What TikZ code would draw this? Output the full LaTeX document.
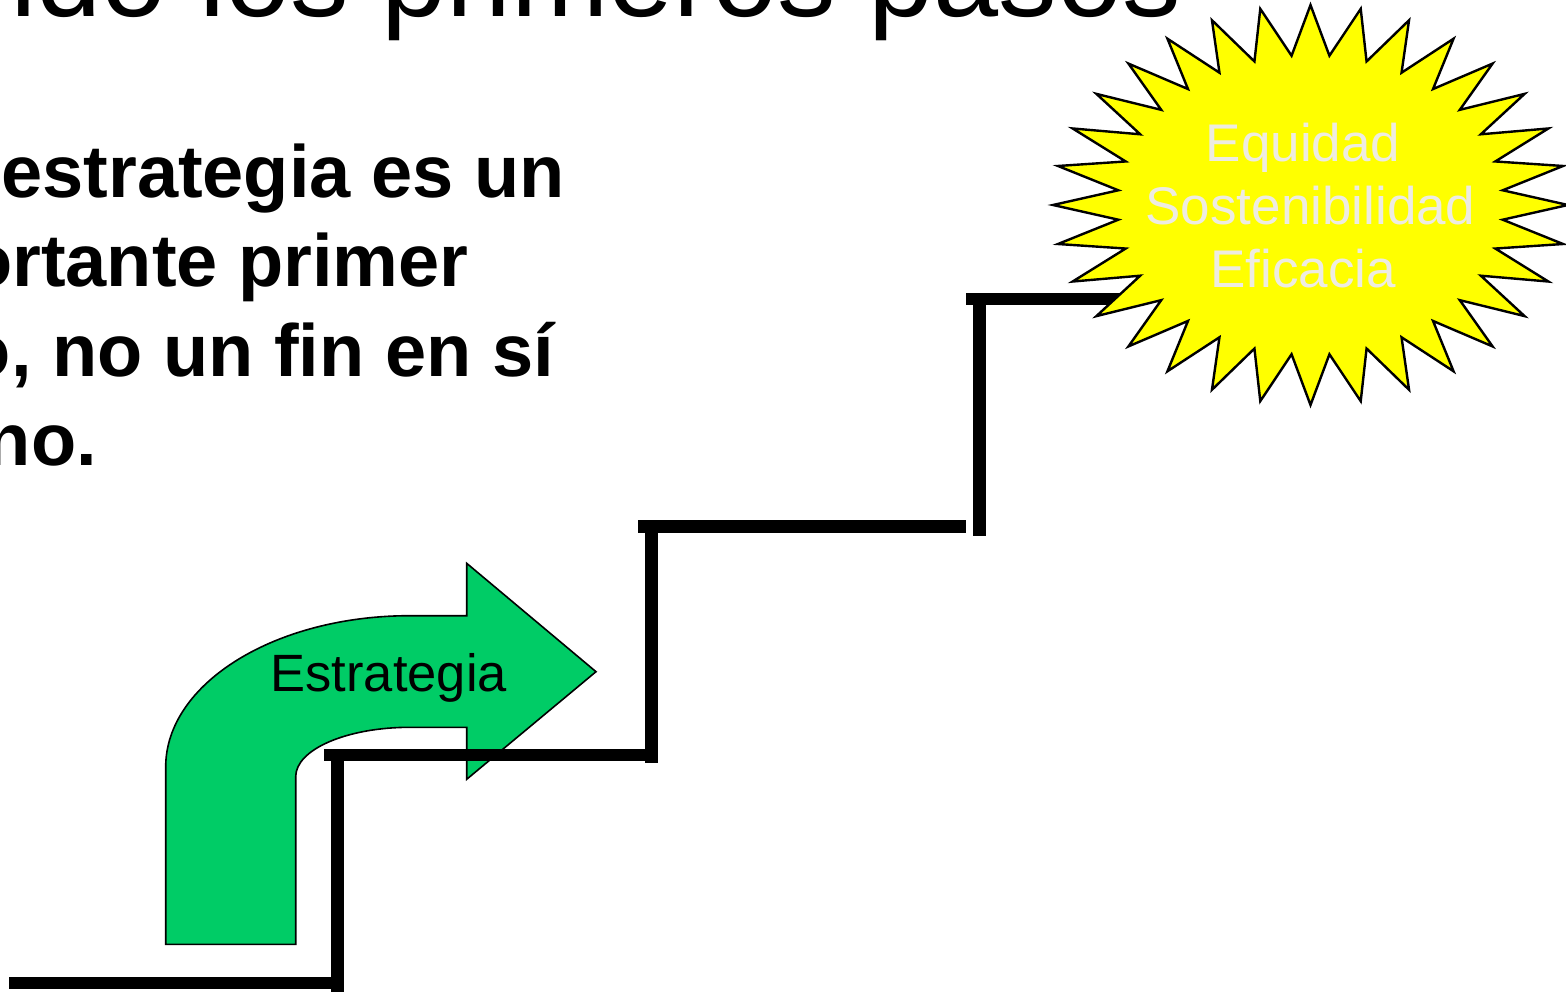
\documentclass[tikz,border=0pt]{standalone}
\usepackage{fontspec}
\setmainfont{Liberation Sans}
\definecolor{arrowgreen}{RGB}{0,204,102}
\definecolor{sunyellow}{RGB}{255,255,0}
\definecolor{lightgraytext}{RGB}{238,236,225}
\tikzset{
  stairline/.style={line width=12.7pt, line cap=butt, black},
  bodytext/.style={inner sep=0pt, anchor=base east, font=\fontsize{74}{80}\selectfont\bfseries},
  sunlabel/.style={inner sep=0pt, anchor=base, text=lightgraytext, font=\fontsize{53}{60}\selectfont},
}
\begin{document}
\begin{tikzpicture}[x=1pt, y=-1pt]
\useasboundingbox (0,0) rectangle (1566,992);
\clip (0,0) rectangle (1566,992);

% title (cut at top)
\node[inner sep=0pt, anchor=base east, font=\fontsize{117}{120}\selectfont] (title) at (1181.5,17) {ndo los primeros pasos};

% body text (cut at left)
\node[bodytext] (l1) at (565,198) {estrategia es un};
\node[bodytext] (l2) at (469,287) {ortante primer};
\node[bodytext] (l3) at (554,376) {o, no un fin en sí};
\node[bodytext] (l4) at (97,465) {no.};

% bent arrow
\draw[fill=arrowgreen, draw=black, line width=1.6pt, line join=miter]
  (165.7,944.3) -- (165.7,767)
  .. controls (165.7,683.4) and (275.1,615.7) .. (410,615.7)
  -- (466.7,615.7) -- (466.7,563.3) -- (596,671.7) -- (466.7,779.3)
  -- (466.7,727.3) -- (410,727.3)
  .. controls (346.9,727.3) and (295.7,749.4) .. (295.7,776.7)
  -- (295.7,944.3) -- cycle;
\node[inner sep=0pt, anchor=base, font=\fontsize{52.5}{60}\selectfont] (estrategia) at (388.7,691.7) {Estrategia};

% stairs
\draw[stairline] (9,983) -- (331,983);
\draw[stairline] (337.5,749) -- (337.5,1000);
\draw[stairline] (324,755) -- (658,755);
\draw[stairline] (651.5,527) -- (651.5,763);
\draw[stairline] (638,526.5) -- (966,526.5);
\draw[stairline] (979.8,305) -- (979.8,535.7);
\draw[stairline] (966,299) -- (1140,299);

% starburst (32 points)
\draw[fill=sunyellow, draw=black, line width=2.4pt, line join=miter]
  (1310.5,5)
  \foreach \i in {1,...,63} {
    -- ({1310.5+257.5*(1-0.25*mod(\i,2))*cos(90+\i*5.625)},
        {205-200*(1-0.25*mod(\i,2))*sin(90+\i*5.625)})
  } -- cycle;
\node[sunlabel] (equidad) at (1303,162) {Equidad};
\node[sunlabel] (sostenibilidad) at (1310.5,225) {Sostenibilidad};
\node[sunlabel] (eficacia) at (1303,288) {Eficacia};
\end{tikzpicture}
\end{document}
